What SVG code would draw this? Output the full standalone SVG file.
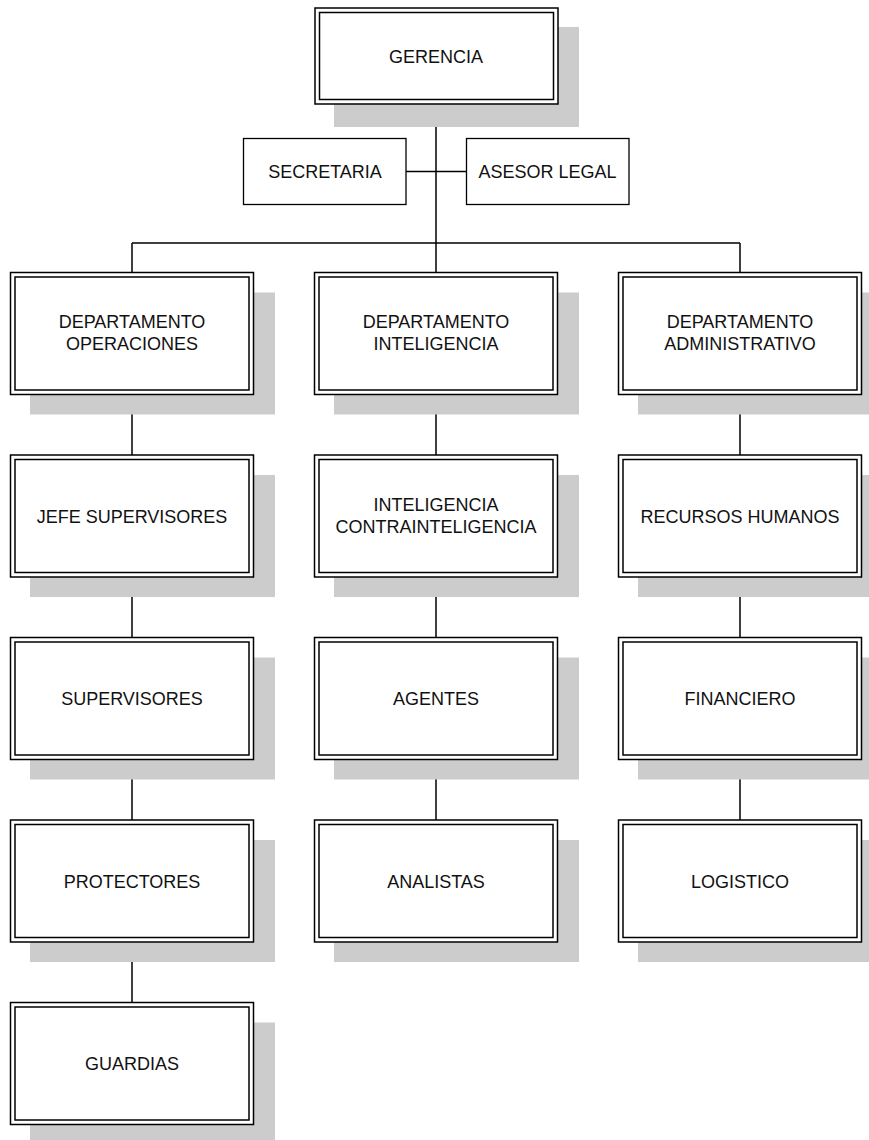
<svg xmlns="http://www.w3.org/2000/svg" width="869" height="1140" viewBox="0 0 869 1140">
<style>
.sh{fill:#cccccc;stroke:none}
.o{fill:#ffffff;stroke:#000;stroke-width:1.5}
.i{fill:none;stroke:#000;stroke-width:1.5}
.s{fill:#ffffff;stroke:#000;stroke-width:1.3}
.t{font-family:"Liberation Sans",Arial,sans-serif;font-size:18px;fill:#111;text-anchor:middle}
.c{stroke:#000;stroke-width:1.5;fill:none}
</style>
<rect width="869" height="1140" fill="#fff"/>
<g id="connectors">
<path class="c" d="M436,104 V243 M406,171.5 H466.5 M132,243 H740 M132,243 V272.5 M436,243 V272.5 M740,243 V272.5"/>
<path class="c" d="M132,394.5 V455 M132,577 V637.5 M132,759.5 V820 M132,942 V1002.5"/>
<path class="c" d="M436,394.5 V455 M436,577 V637.5 M436,759.5 V820"/>
<path class="c" d="M740,394.5 V455 M740,577 V637.5 M740,759.5 V820"/>
</g>
<g id="gerencia">
<rect class="sh" x="334" y="27" width="245" height="100"/>
<rect class="o" x="315" y="8" width="243" height="96"/>
<rect class="i" x="319.5" y="12.5" width="234" height="87"/>
<text class="t" x="436" y="62.5">GERENCIA</text>
</g>
<g id="secretaria">
<rect class="s" x="243.5" y="138.5" width="162.5" height="66"/>
<text class="t" x="325" y="177.8">SECRETARIA</text>
</g>
<g id="asesor">
<rect class="s" x="466.5" y="138.5" width="162.5" height="66"/>
<text class="t" x="547.5" y="177.8">ASESOR LEGAL</text>
</g>
<g id="dep-operaciones">
<rect class="sh" x="30" y="292.5" width="245" height="122"/>
<rect class="o" x="10.5" y="272.5" width="243" height="122"/>
<rect class="i" x="15" y="277" width="234" height="113"/>
<text class="t" x="132" y="328">DEPARTAMENTO</text>
<text class="t" x="132" y="349.7">OPERACIONES</text>
</g>
<g id="dep-inteligencia">
<rect class="sh" x="334" y="292.5" width="245" height="122"/>
<rect class="o" x="314.5" y="272.5" width="243" height="122"/>
<rect class="i" x="319" y="277" width="234" height="113"/>
<text class="t" x="436" y="328">DEPARTAMENTO</text>
<text class="t" x="436" y="349.7">INTELIGENCIA</text>
</g>
<g id="dep-administrativo">
<rect class="sh" x="638" y="292.5" width="245" height="122"/>
<rect class="o" x="618.5" y="272.5" width="243" height="122"/>
<rect class="i" x="623" y="277" width="234" height="113"/>
<text class="t" x="740" y="328">DEPARTAMENTO</text>
<text class="t" x="740" y="349.7">ADMINISTRATIVO</text>
</g>
<g id="jefe-supervisores">
<rect class="sh" x="30" y="475" width="245" height="122"/>
<rect class="o" x="10.5" y="455" width="243" height="122"/>
<rect class="i" x="15" y="459.5" width="234" height="113"/>
<text class="t" x="132" y="522.5">JEFE SUPERVISORES</text>
</g>
<g id="inteligencia-contrainteligencia">
<rect class="sh" x="334" y="475" width="245" height="122"/>
<rect class="o" x="314.5" y="455" width="243" height="122"/>
<rect class="i" x="319" y="459.5" width="234" height="113"/>
<text class="t" x="436" y="510.8">INTELIGENCIA</text>
<text class="t" x="436" y="532.7">CONTRAINTELIGENCIA</text>
</g>
<g id="recursos-humanos">
<rect class="sh" x="638" y="475" width="245" height="122"/>
<rect class="o" x="618.5" y="455" width="243" height="122"/>
<rect class="i" x="623" y="459.5" width="234" height="113"/>
<text class="t" x="740" y="522.5">RECURSOS HUMANOS</text>
</g>
<g id="supervisores">
<rect class="sh" x="30" y="657.5" width="245" height="122"/>
<rect class="o" x="10.5" y="637.5" width="243" height="122"/>
<rect class="i" x="15" y="642" width="234" height="113"/>
<text class="t" x="132" y="705">SUPERVISORES</text>
</g>
<g id="agentes">
<rect class="sh" x="334" y="657.5" width="245" height="122"/>
<rect class="o" x="314.5" y="637.5" width="243" height="122"/>
<rect class="i" x="319" y="642" width="234" height="113"/>
<text class="t" x="436" y="705">AGENTES</text>
</g>
<g id="financiero">
<rect class="sh" x="638" y="657.5" width="245" height="122"/>
<rect class="o" x="618.5" y="637.5" width="243" height="122"/>
<rect class="i" x="623" y="642" width="234" height="113"/>
<text class="t" x="740" y="705">FINANCIERO</text>
</g>
<g id="protectores">
<rect class="sh" x="30" y="840" width="245" height="122"/>
<rect class="o" x="10.5" y="820" width="243" height="122"/>
<rect class="i" x="15" y="824.5" width="234" height="113"/>
<text class="t" x="132" y="887.5">PROTECTORES</text>
</g>
<g id="analistas">
<rect class="sh" x="334" y="840" width="245" height="122"/>
<rect class="o" x="314.5" y="820" width="243" height="122"/>
<rect class="i" x="319" y="824.5" width="234" height="113"/>
<text class="t" x="436" y="887.5">ANALISTAS</text>
</g>
<g id="logistico">
<rect class="sh" x="638" y="840" width="245" height="122"/>
<rect class="o" x="618.5" y="820" width="243" height="122"/>
<rect class="i" x="623" y="824.5" width="234" height="113"/>
<text class="t" x="740" y="887.5">LOGISTICO</text>
</g>
<g id="guardias">
<rect class="sh" x="30" y="1022.5" width="245" height="122"/>
<rect class="o" x="10.5" y="1002.5" width="243" height="122"/>
<rect class="i" x="15" y="1007" width="234" height="113"/>
<text class="t" x="132" y="1070">GUARDIAS</text>
</g>
</svg>
